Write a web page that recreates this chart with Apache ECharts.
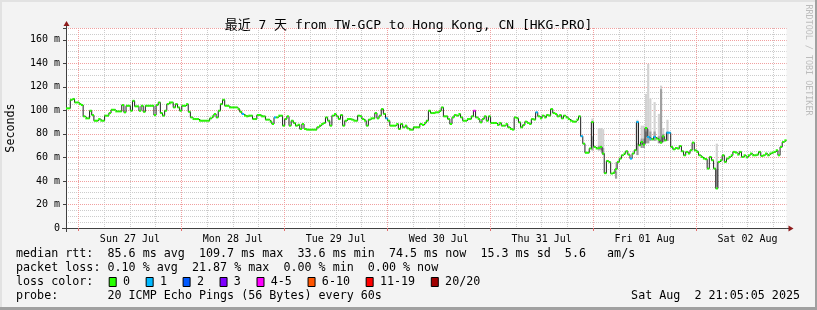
<!DOCTYPE html>
<html><head><meta charset="utf-8">
<script src="https://cdn.jsdelivr.net/npm/echarts@6/dist/echarts.min.js"></script>
<style>html,body{margin:0;padding:0;background:#f3f3f3}#c{width:817px;height:310px}</style>
</head><body><div id="c"></div>
<script>
// ---------- data ----------
const START = Date.UTC(2025, 6, 26, 21, 5, 5);
const END = Date.UTC(2025, 7, 2, 21, 5, 5);
const STEP = 1800000; // 30 min per sample
const titleText = '最近 7 天 from TW-GCP to Hong Kong, CN [HKG-PRO]';
// half-hourly median RTT (ms)
const medianRtt = [
 101.7,101.7,109.0,109.7,106.7,106.7,105.3,104.5,94.9,93.2,
 93.2,99.7,96.0,91.2,91.2,92.6,91.2,91.2,95.5,95.5,
 97.7,100.5,100.5,99.1,99.1,99.1,104.5,98.3,103.9,103.9,
 99.7,108.1,103.4,103.4,99.7,103.9,98.8,103.9,103.9,103.9,
 103.9,96.0,104.5,106.7,97.7,95.5,99.7,105.3,106.7,106.7,
 102.5,105.3,102.5,99.7,103.9,103.9,105.3,98.8,94.0,92.6,
 92.6,92.6,91.2,91.2,91.2,91.2,91.2,93.2,94.9,96.9,
 94.0,99.7,105.3,109.0,103.9,103.9,102.5,102.5,102.5,102.5,
 101.1,98.8,96.9,95.5,
 94.9,95.5,95.5,92.6,92.6,96.0,96.0,94.9,94.9,92.1,
 92.1,90.4,88.4,94.0,94.0,95.5,95.5,87.0,92.6,94.9,
 87.0,91.2,89.3,87.0,87.8,84.2,88.4,84.2,83.6,83.6,
 83.6,83.6,83.6,85.6,87.0,88.4,89.3,94.0,91.2,87.0,
 95.5,96.9,94.9,92.6,96.0,87.0,91.2,92.6,92.6,92.1,
 91.2,91.2,95.5,94.9,92.6,91.2,87.0,92.1,93.2,93.2,
 97.7,93.2,95.5,101.1,97.0,93.2,91.2,87.0,87.0,87.0,
 88.4,84.2,88.4,85.6,87.0,84.7,83.6,83.6,85.6,85.6,
 85.6,88.4,87.6,
 89.3,91.2,99.7,97.7,97.7,98.3,98.3,99.7,102.5,94.9,
 94.9,92.6,88.4,94.0,96.0,95.5,96.9,94.0,91.2,91.2,
 92.6,92.6,94.9,99.7,94.0,92.6,89.8,92.6,94.9,91.2,
 94.9,89.3,89.3,89.3,87.6,89.3,87.0,87.0,88.4,85.6,
 84.2,83.6,94.0,93.2,89.8,85.6,87.6,90.4,89.3,88.4,
 92.6,92.1,98.3,94.9,93.2,95.5,94.0,96.0,95.5,101.1,
 97.7,96.9,94.9,96.0,93.2,95.5,94.0,92.6,91.2,90.4,
 90.4,92.1,94.9,
 78.0,71.7,64.0,64.0,67.6,90.0,68.9,67.6,68.0,68.9,63.3,46.6,
 57.0,56.0,46.3,47.0,50.0,56.2,59.0,61.8,63.3,65.2,
 62.4,59.0,63.3,66.1,90.1,70.3,73.1,70.9,85.0,77.4,
 76.0,75.4,77.4,76.0,75.0,72.6,77.9,74.5,81.0,81.0,
 68.9,66.9,68.0,67.5,69.7,65.2,61.8,64.7,63.3,66.1,
 72.6,66.0,64.7,61.8,60.4,59.0,58.5,50.5,60.4,57.6,
 50.5,33.6,56.2,57.6,61.8,56.2,59.0,60.4,61.8,64.7,
 64.1,62.4,64.7,60.4,61.8,60.1,61.8,63.3,61.8,61.8,
 62.4,64.7,61.3,61.8,63.3,61.8,63.3,64.1,64.7,66.1,
 61.8,68.9,73.1,74.5
];
// samples with lost pings, and lost ping count (of 20)
const lossSlots = [82, 97, 149, 190, 219, 240, 263, 266, 271, 272, 274, 280, 281];
const lossPings = [1, 1, 1, 4, 1, 1, 1, 1, 1, 1, 1, 1, 1];
// smoke (ping spread) where visible
const smokeSlots = [245, 248, 249, 250, 256, 266, 268, 269, 270, 271, 272, 274, 276, 277, 278, 280, 303];
const smokeLow   = [66, 66, 66, 62, 42, 62, 68, 68, 72, 72, 74, 74, 72, 72, 73, 74, 35];
const smokeMid   = [78, 70, 70, 68, 48, 72, 76, 76, 82, 84, 82, 82, 78, 118, 80, 82, 50];
const smokeHigh  = [93, 85, 85, 84, 56, 92, 87, 87, 114, 139.5, 110, 107, 97, 121, 85, 92, 71.7];
const dayLabels = ['Sun 27 Jul','Mon 28 Jul','Tue 29 Jul','Wed 30 Jul','Thu 31 Jul','Fri 01 Aug','Sat 02 Aug'];
const yTickValues = [0, 20, 40, 60, 80, 100, 120, 140, 160];
const yTickLabels = ['0','20 m','40 m','60 m','80 m','100 m','120 m','140 m','160 m'];
const lossClassNames = ['0','1','2','3','4-5','6-10','11-19','20/20'];
const lossClassMax = [0, 1, 2, 3, 5, 10, 19, 20];
const rttValues = [85.6, 109.7, 33.6, 74.5, 15.3];
const rttNames = ['avg','max','min','now','sd'];
const amPerSec = 5.6;
const lossPctValues = [0.10, 21.87, 0.00, 0.00];
const lossPctNames = ['avg','max','min','now'];
const probeText = '20 ICMP Echo Pings (56 Bytes) every 60s';
const stampText = 'Sat Aug  2 21:05:05 2025';

// ---------- styles ----------
const lossColors = ['#26ff00','#00b8ff','#0059ff','#7e00ff','#ff00ff','#ff5500','#ff0000','#a00000'];
const MONO = '"DejaVu Sans Mono", monospace';
const YMAX = 170;
const HOUR = 3600000;

function lossClass(n){ for (let i=0;i<lossClassMax.length;i++) if (n<=lossClassMax[i]) return i; return 7; }

const lineData = medianRtt.map((v,i)=>[START+i*STEP, v]);
lineData.push([END, medianRtt[medianRtt.length-1]]);
const barData = medianRtt.map((v,i)=>{
  const k = lossSlots.indexOf(i);
  return [START+i*STEP, v, lossClass(k>=0 ? lossPings[k] : 0)];
});
const smokeData = smokeSlots.map((s,i)=>[START+s*STEP, smokeLow[i], smokeMid[i], smokeHigh[i]]);

const midnights = [], sixHours = [], noons = [];
for (let d = 27; d <= 33; d++) {
  const m = Date.UTC(2025, 6, d, 0, 0, 0);
  midnights.push(m);
  noons.push(m + 12*HOUR);
}
for (let d = 26; d <= 33; d++) {
  for (const hh of [6, 12, 18]) sixHours.push(Date.UTC(2025, 6, d, hh, 0, 0));
}

const chart = echarts.init(document.getElementById('c'), null, {renderer:'canvas'});
const option = {
  animation: false,
  backgroundColor: '#f3f3f3',
  title: { text: titleText, left: 'center', top: 14,
    textStyle: { fontFamily: '"DejaVu Sans Mono","Noto Sans CJK SC",monospace', fontSize: 13, fontWeight: 'normal', color: '#000' } },
  grid: { left: 66, right: 30.5, top: 28, bottom: 82, show: true, backgroundColor: '#ffffff', borderWidth: 0 },
  xAxis: [
    { type: 'value', min: START, max: END, position: 'bottom',
      axisLine: { show: true, lineStyle: { color: '#404040', width: 1 } },
      axisTick: { show: true, length: 3, customValues: midnights, lineStyle: { color: '#e07070' } },
      axisLabel: { show: true, customValues: noons, margin: 6, fontFamily: MONO, fontSize: 10, color: '#000',
        formatter: v => { const i = noons.indexOf(v); return i >= 0 ? dayLabels[i] : ''; } },
      splitLine: { show: true, lineStyle: { color: '#f0a0a0', type: [1,1], width: 1 } }, z: 3 },
    { type: 'value', min: START, max: END, position: 'bottom',
      axisLine: { show: false }, axisLabel: { show: false },
      axisTick: { show: false, customValues: sixHours },
      splitLine: { show: true, lineStyle: { color: '#cccccc', type: [1,1], width: 1 } }, z: 2 }
  ],
  yAxis: [
    { type: 'value', min: 0, max: YMAX, interval: 5, position: 'left',
      axisLine: { show: false }, axisLabel: { show: false },
      axisTick: { show: false },
      splitLine: { show: true, lineStyle: { color: '#cccccc', type: [1,1], width: 1 } }, z: 2 },
    { type: 'value', min: 0, max: YMAX, interval: 20, position: 'left',
      axisLine: { show: true, lineStyle: { color: '#404040', width: 1 } },
      axisTick: { show: true, length: 3, lineStyle: { color: '#404040' } },
      axisLabel: { show: true, margin: 6, fontFamily: MONO, fontSize: 10, color: '#000',
        formatter: v => { const i = yTickValues.indexOf(v); return i >= 0 ? yTickLabels[i] : ''; } },
      splitLine: { show: true, lineStyle: { color: '#f0a0a0', type: [1,1], width: 1 } }, z: 3 }
  ],
  series: [
    { type: 'custom', name: 'smoke', xAxisIndex: 0, yAxisIndex: 1, z: 4, clip: true,
      data: smokeData,
      renderItem: (params, api) => {
        const t = api.value(0);
        const a = api.coord([t, api.value(1)]);
        const m = api.coord([t, api.value(2)]);
        const h = api.coord([t, api.value(3)]);
        const e = api.coord([t + STEP, api.value(1)]);
        const w = e[0] - a[0];
        return { type: 'group', children: [
          { type: 'rect', shape: { x: a[0], y: h[1], width: w, height: a[1]-h[1] }, style: { fill: '#d2d2d2' } },
          { type: 'rect', shape: { x: a[0], y: m[1], width: w, height: a[1]-m[1] }, style: { fill: '#a0a0a0' } }
        ]};
      } },
    { type: 'line', name: 'median', xAxisIndex: 0, yAxisIndex: 1, z: 5, step: 'end', symbol: 'none',
      data: lineData, lineStyle: { color: '#202020', width: 1 } },
    { type: 'custom', name: 'loss', xAxisIndex: 0, yAxisIndex: 1, z: 6, clip: true,
      data: barData,
      renderItem: (params, api) => {
        const t = api.value(0), v = api.value(1), c = api.value(2);
        const p0 = api.coord([t, v]);
        const p1 = api.coord([t + STEP, v]);
        return { type: 'rect', shape: { x: p0[0], y: p0[1]-1, width: p1[0]-p0[0], height: 2 },
          style: { fill: lossColors[c] } };
      } }
  ]
};
chart.setOption(option);

// ---------- decorations: axes arrows, texts, legend ----------
const pOrigin = chart.convertToPixel({xAxisIndex:0, yAxisIndex:1}, [START, 0]);
const pEnd = chart.convertToPixel({xAxisIndex:0, yAxisIndex:1}, [END, 0]);
const pTop = chart.convertToPixel({xAxisIndex:0, yAxisIndex:1}, [START, YMAX]);
const ARROW = '#8e1b1b', AX = '#404040';
const g = [];
g.push({ type:'line', shape:{x1:pOrigin[0]-4, y1:pOrigin[1]+0.5, x2:pOrigin[0], y2:pOrigin[1]+0.5}, style:{stroke:AX, lineWidth:1} });
g.push({ type:'line', shape:{x1:pEnd[0], y1:pEnd[1]+0.5, x2:pEnd[0]+3, y2:pEnd[1]+0.5}, style:{stroke:AX, lineWidth:1} });
g.push({ type:'polygon', shape:{points:[[pEnd[0]+2, pEnd[1]-2.5],[pEnd[0]+7, pEnd[1]+0.5],[pEnd[0]+2, pEnd[1]+3.5]]}, style:{fill:ARROW} });
g.push({ type:'line', shape:{x1:pTop[0]+0.5, y1:pTop[1], x2:pTop[0]+0.5, y2:pTop[1]-3}, style:{stroke:AX, lineWidth:1} });
g.push({ type:'line', shape:{x1:pOrigin[0]+0.5, y1:pOrigin[1], x2:pOrigin[0]+0.5, y2:pOrigin[1]+4}, style:{stroke:AX, lineWidth:1} });
g.push({ type:'polygon', shape:{points:[[pTop[0]-2.5, pTop[1]-2],[pTop[0]+0.5, pTop[1]-7],[pTop[0]+3.5, pTop[1]-2]]}, style:{fill:ARROW} });

// frame shading
g.push({ type:'rect', shape:{x:0,y:0,width:817,height:2}, style:{fill:'#e2e2e2'} });
g.push({ type:'rect', shape:{x:0,y:0,width:2,height:310}, style:{fill:'#e2e2e2'} });
g.push({ type:'rect', shape:{x:0,y:307,width:817,height:3}, style:{fill:'#a0a0a0'} });
g.push({ type:'rect', shape:{x:815,y:0,width:2,height:310}, style:{fill:'#a0a0a0'} });

// axis title + watermark
g.push({ type:'text', x: 11, y: (pOrigin[1]+pTop[1])/2, rotation: Math.PI/2,
  style:{ text:'Seconds', font:'11.7px '+MONO, fill:'#000', align:'center', verticalAlign:'middle' } });
g.push({ type:'text', x: 808, y: 60, rotation: -Math.PI/2,
  style:{ text:'RRDTOOL / TOBI OETIKER', font:'8.4px '+MONO, fill:'#bcbcbc', align:'center', verticalAlign:'middle' } });

// legend rows
const FONT = '11.7px ' + MONO;
const row1 = 'median rtt:  ' + rttValues.map((v,i)=> v.toFixed(1)+' ms '+rttNames[i]).join('  ') + '  ' + amPerSec.toFixed(1) + '   am/s';
const row2 = 'packet loss: ' + lossPctValues.map((v,i)=> v.toFixed(2)+' % '+lossPctNames[i]).join('  ');
const row4 = 'probe:       ' + probeText;
[[row1,254],[row2,268],['loss color:',282],[row4,296]].forEach(([t,y])=>{
  g.push({ type:'text', x:16, y:y, style:{ text:t, font:FONT, fill:'#000', verticalAlign:'middle' } });
});
g.push({ type:'text', x:800, y:296, style:{ text:stampText, font:FONT, fill:'#000', align:'right', verticalAlign:'middle' } });
let sx = 108.7;
lossClassNames.forEach((name,i)=>{
  g.push({ type:'rect', shape:{x:sx+0.5, y:277.5, width:7, height:9}, style:{fill:lossColors[i], stroke:'#000', lineWidth:1} });
  const lx = sx + 14.3;
  g.push({ type:'text', x:lx, y:282, style:{ text:name, font:FONT, fill:'#000', verticalAlign:'middle' } });
  sx = lx + 7.05*name.length + 15.6;
});
chart.setOption({ graphic: g });
</script></body></html>
